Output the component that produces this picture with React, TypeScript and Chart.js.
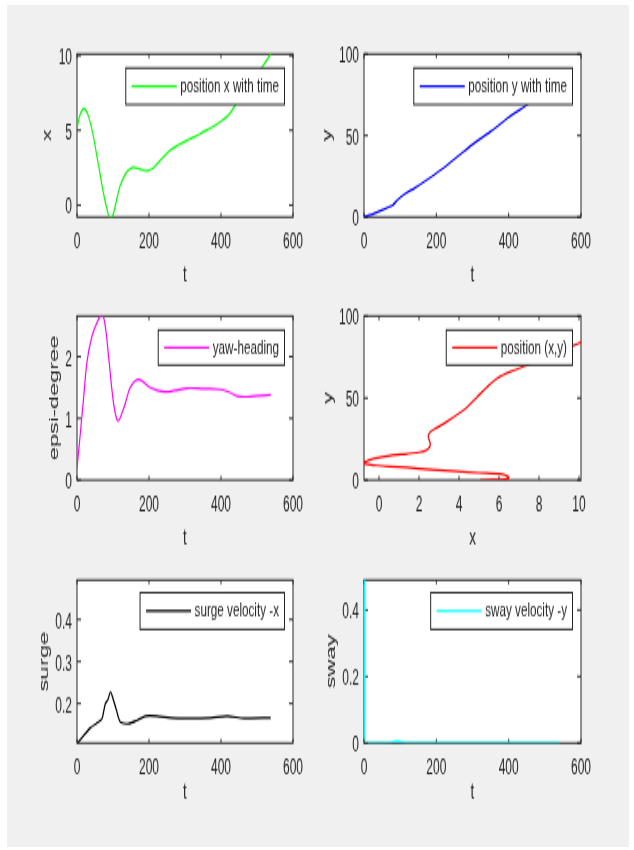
import React, { useEffect, useRef } from 'react';
import { Chart, registerables } from 'chart.js';

Chart.register(...registerables);

// ---------------- data ----------------
const timeTicks = [0, 200, 400, 600];

// position x with time
const tPosX = [0, 8, 19, 31, 45, 55, 64, 73, 83, 93, 102, 110, 120, 135, 147, 158, 175, 193, 210, 222, 240, 258, 280, 305, 330, 351, 375, 397, 420, 434, 460, 490, 513, 538];
const posX = [5.1, 6.0, 6.45, 6.0, 4.66, 3.3, 2.1, 0.85, -0.25, -0.95, -0.5, 0.35, 1.3, 2.1, 2.42, 2.52, 2.4, 2.3, 2.45, 2.75, 3.2, 3.65, 4.0, 4.32, 4.6, 4.89, 5.2, 5.56, 6.0, 6.47, 7.4, 8.4, 9.18, 10.1];
const posXTicks = [0, 5, 10];

// position y with time
const tPosY = [0, 20, 37, 60, 79, 90, 102, 120, 139, 167, 213, 260, 306, 352, 399, 454, 500, 538];
const posY = [0, 1.4, 3.1, 5.2, 7.2, 9.8, 12.4, 15.2, 17.6, 21.7, 29, 37.3, 45.5, 52.8, 61, 69.4, 77, 83.5];
const posYTicks = [0, 50, 100];

// yaw-heading
const tYaw = [0, 9, 18.5, 28, 42, 56, 70, 79, 88, 102, 114, 130, 148, 171, 204, 241, 270, 306, 352, 399, 425, 445, 473, 505, 538];
const yaw = [0.19, 0.74, 1.34, 1.93, 2.34, 2.56, 2.69, 2.48, 1.99, 1.23, 0.96, 1.17, 1.5, 1.63, 1.5, 1.43, 1.45, 1.49, 1.48, 1.47, 1.42, 1.36, 1.35, 1.37, 1.38];
const yawTicks = [0, 1, 2];

// position (x,y)
const trajX = [5.07, 5.7, 6.3, 6.5, 6.45, 6.2, 5.0, 3.9, 2.6, 1.4, 0.5, -0.1, -0.55, -0.95, -0.6, -0.27, 0.57, 1.4, 2.0, 2.3, 2.48, 2.57, 2.5, 2.46, 2.57, 2.9, 3.4, 3.9, 4.4, 4.9, 5.4, 5.9, 6.57, 7.4, 8.5, 9.73, 10.2];
const trajY = [0, 0.15, 0.6, 1.3, 2.2, 3.5, 4.4, 5.2, 6.4, 7.6, 8.3, 8.9, 9.6, 10.4, 11.6, 13, 15, 16, 16.9, 17.8, 19.2, 21.6, 24.7, 26.8, 29.5, 32, 35.7, 39.8, 44.3, 50.5, 56.7, 61.9, 66, 69.9, 75.5, 82, 84.5];
const trajXTicks = [0, 2, 4, 6, 8, 10];
const trajYTicks = [0, 50, 100];

// surge velocity -x
const tSurge = [0, 18.5, 37, 55.6, 69.5, 75, 79, 86, 93, 100, 107, 114, 120.5, 144, 167, 190, 222, 260, 306, 371, 417, 464, 538];
const surge = [0.104, 0.124, 0.142, 0.154, 0.164, 0.185, 0.2, 0.21, 0.228, 0.212, 0.192, 0.17, 0.156, 0.152, 0.16, 0.17, 0.17, 0.166, 0.165, 0.166, 0.17, 0.165, 0.166];
const surgeTicks = [0.2, 0.3, 0.4];

// sway velocity -y
const tSway = [0, 2, 4, 20, 50, 75, 88, 100, 115, 150, 250, 350, 450, 540];
const sway = [0.5, 0.02, 0.002, 0.001, 0.0, 0.002, 0.006, 0.004, 0.001, 0.0, 0.0, 0.0, 0.0, 0.0];
const swayTicks = [0, 0.2, 0.4];

// ---------------- style ----------------
const K = 1.75; // vertical stretch of the original figure
const FONT = '"Liberation Sans", Arial, Helvetica, sans-serif';
const AXIS_COLOR = '#262626';

const pairs = (xs: number[], ys: number[]) => xs.map((x, i) => ({ x, y: ys[i] }));

const matlabPlugin: any = {
  id: 'matlab',
  beforeDraw(chart: any) {
    const { ctx, chartArea: a } = chart;
    ctx.save();
    ctx.fillStyle = '#ffffff';
    ctx.fillRect(a.left, a.top, a.right - a.left, a.bottom - a.top);
    ctx.restore();
  },
  beforeDatasetsDraw(chart: any, _args: any, opts: any) {
    const { ctx, chartArea: a, scales } = chart;
    const xs = scales.x;
    const ys = scales.y;
    ctx.save();
    ctx.strokeStyle = AXIS_COLOR;
    ctx.lineWidth = 1;
    ctx.beginPath();
    for (const t of xs.ticks) {
      const p = xs.getPixelForValue(t.value);
      ctx.moveTo(p, a.bottom);
      ctx.lineTo(p, a.bottom - opts.xTickLen);
      ctx.moveTo(p, a.top);
      ctx.lineTo(p, a.top + opts.xTickLen);
    }
    for (const t of ys.ticks) {
      const p = ys.getPixelForValue(t.value);
      ctx.moveTo(a.left, p);
      ctx.lineTo(a.left + opts.yTickLen, p);
      ctx.moveTo(a.right, p);
      ctx.lineTo(a.right - opts.yTickLen, p);
    }
    ctx.stroke();
    ctx.strokeRect(a.left, a.top, a.right - a.left, a.bottom - a.top);
    ctx.restore();
  },
  afterDatasetsDraw(chart: any, _args: any, opts: any) {
    const { ctx, chartArea: a } = chart;
    const ds = chart.data.datasets[0];
    const k = opts.k;
    ctx.save();
    ctx.font = `${opts.fontSize}px ${FONT}`;
    const tw = ctx.measureText(ds.label).width;
    const w = 6 + 45 + 3.5 + tw + 5.5;
    const h = opts.legendH / k;
    const right = a.right - 8.5;
    const left = right - w;
    const top = a.top + opts.legendTop / k;
    ctx.fillStyle = '#ffffff';
    ctx.fillRect(left, top, w, h);
    ctx.strokeStyle = AXIS_COLOR;
    ctx.lineWidth = 1;
    ctx.strokeRect(left, top, w, h);
    const cy = top + h / 2;
    ctx.strokeStyle = ds.borderColor;
    ctx.lineWidth = ds.borderWidth;
    ctx.beginPath();
    ctx.moveTo(left + 6, cy);
    ctx.lineTo(left + 51, cy);
    ctx.stroke();
    ctx.fillStyle = AXIS_COLOR;
    ctx.textBaseline = 'middle';
    ctx.textAlign = 'left';
    ctx.fillText(ds.label, left + 54.5, cy);
    ctx.restore();
  },
};

type Spec = {
  L: number; R: number; T: number; B: number;
  xMin: number; xMax: number; yMin: number; yMax: number;
  xTicks: number[]; yTicks: number[];
  xTitle: string; yTitle: string;
  yTitleCenter: number; // displayed x offset of y title centre from canvas left
  xTitleGap: number; // displayed distance from box bottom to x title centre
  label: string; color: string;
  xs: number[]; ys: number[];
  tension: number;
  legendTop: number; legendH: number;
};

function Plot({ spec }: { spec: Spec }) {
  const ref = useRef<HTMLCanvasElement>(null);
  const x0 = spec.L - 70;
  const y0 = spec.T - 25;
  const W = spec.R - spec.L + 95;
  const Hd = spec.B - spec.T + 100;
  const Hi = Math.round(Hd / K);
  const k = Hd / Hi;

  useEffect(() => {
    const canvas = ref.current as HTMLCanvasElement;
    const tickFont = { family: FONT, size: 12 };
    const titleFont = { family: FONT, size: 13.5 };
    const chart = new Chart(canvas, {
      type: 'line',
      data: {
        datasets: [
          {
            label: spec.label,
            data: pairs(spec.xs, spec.ys),
            borderColor: spec.color,
            backgroundColor: spec.color,
            borderWidth: 1.2,
            pointRadius: 0,
            tension: spec.tension,
            fill: false,
          },
        ],
      },
      options: {
        responsive: false,
        animation: false,
        devicePixelRatio: 1,
        events: [],
        layout: { padding: { left: 0, top: 25 / k, right: 25, bottom: 0 } },
        elements: { line: { capBezierPoints: false } },
        plugins: {
          legend: { display: false },
          tooltip: { enabled: false },
          matlab: { k, xTickLen: 4.3 / k, yTickLen: 4, legendTop: spec.legendTop, legendH: spec.legendH, fontSize: 11.7 },
        } as any,
        scales: {
          x: {
            type: 'linear',
            min: spec.xMin,
            max: spec.xMax,
            afterBuildTicks: (s: any) => {
              s.ticks = spec.xTicks.map((v) => ({ value: v }));
            },
            afterFit: (s: any) => {
              s.height = 75 / k;
            },
            ticks: {
              font: tickFont,
              color: AXIS_COLOR,
              padding: 7.4,
              maxRotation: 0,
              autoSkip: false,
              callback: (v: any) => String(Number(v)),
            },
            grid: { display: false, drawTicks: false },
            border: { display: false },
            title: {
              display: true,
              text: spec.xTitle,
              font: titleFont,
              color: AXIS_COLOR,
              padding: { top: 0, bottom: (75 - spec.xTitleGap) / k - 8.1 },
            },
          },
          y: {
            type: 'linear',
            min: spec.yMin,
            max: spec.yMax,
            afterBuildTicks: (s: any) => {
              s.ticks = spec.yTicks.map((v) => ({ value: v }));
            },
            afterFit: (s: any) => {
              s.width = 70;
            },
            ticks: {
              font: tickFont,
              color: AXIS_COLOR,
              padding: 5,
              labelOffset: 3 / k,
              autoSkip: false,
              callback: (v: any) => String(Number(v)),
            },
            grid: { display: false, drawTicks: false },
            border: { display: false },
            title: {
              display: true,
              text: spec.yTitle,
              font: titleFont,
              color: AXIS_COLOR,
              padding: { top: spec.yTitleCenter - 8.1, bottom: 0 },
            },
          },
        },
      } as any,
      plugins: [matlabPlugin],
    });
    return () => chart.destroy();
  }, []);

  return (
    <canvas
      ref={ref}
      width={W}
      height={Hi}
      style={{ position: 'absolute', left: x0, top: y0, width: W, height: Hd }}
    />
  );
}

const COL = [
  { L: 77, R: 293 },
  { L: 364, R: 581 },
];
const ROW = [
  { T: 54, B: 217 },
  { T: 316, B: 480 },
  { T: 580, B: 743 },
];

const specs: Spec[] = [
  {
    ...COL[0], ...ROW[0],
    xMin: 0, xMax: 600, yMin: -0.8, yMax: 10.1,
    xTicks: timeTicks, yTicks: posXTicks,
    xTitle: 't', yTitle: 'x', yTitleCenter: 40, xTitleGap: 57.5,
    label: 'position x with time', color: '#00ff00',
    xs: tPosX, ys: posX, tension: 0.35, legendTop: 14, legendH: 36.5,
  },
  {
    ...COL[1], ...ROW[0],
    xMin: 0, xMax: 600, yMin: 0, yMax: 100,
    xTicks: timeTicks, yTicks: posYTicks,
    xTitle: 't', yTitle: 'y', yTitleCenter: 33, xTitleGap: 57.5,
    label: 'position y with time', color: '#0000ff',
    xs: tPosY, ys: posY, tension: 0.2, legendTop: 14, legendH: 36.5,
  },
  {
    ...COL[0], ...ROW[1],
    xMin: 0, xMax: 600, yMin: 0, yMax: 2.66,
    xTicks: timeTicks, yTicks: yawTicks,
    xTitle: 't', yTitle: 'epsi-degree', yTitleCenter: 47, xTitleGap: 57.5,
    label: 'yaw-heading', color: '#ff00ff',
    xs: tYaw, ys: yaw, tension: 0.35, legendTop: 14, legendH: 35,
  },
  {
    ...COL[1], ...ROW[1],
    xMin: -0.75, xMax: 10.1, yMin: 0, yMax: 100,
    xTicks: trajXTicks, yTicks: trajYTicks,
    xTitle: 'x', yTitle: 'y', yTitleCenter: 34, xTitleGap: 57.5,
    label: 'position (x,y)', color: '#ff0000',
    xs: trajX, ys: trajY, tension: 0.3, legendTop: 14, legendH: 35,
  },
  {
    ...COL[0], ...ROW[2],
    xMin: 0, xMax: 600, yMin: 0.106, yMax: 0.494,
    xTicks: timeTicks, yTicks: surgeTicks,
    xTitle: 't', yTitle: 'surge', yTitleCenter: 37, xTitleGap: 50,
    label: 'surge velocity -x', color: '#000000',
    xs: tSurge, ys: surge, tension: 0.25, legendTop: 12.7, legendH: 36.6,
  },
  {
    ...COL[1], ...ROW[2],
    xMin: 0, xMax: 600, yMin: 0, yMax: 0.49,
    xTicks: timeTicks, yTicks: swayTicks,
    xTitle: 't', yTitle: 'sway', yTitleCenter: 37.5, xTitleGap: 49,
    label: 'sway velocity -y', color: '#00ffff',
    xs: tSway, ys: sway, tension: 0, legendTop: 12.7, legendH: 36.6,
  },
];

export default function App() {
  return (
    <div style={{ position: 'absolute', left: 0, top: 0, width: 634, height: 850, background: '#ffffff', overflow: 'hidden' }}>
      <div style={{ position: 'absolute', left: 7, top: 5, width: 622, height: 842, background: '#f0f0f0' }} />
      {specs.map((s, i) => (
        <Plot key={i} spec={s} />
      ))}
    </div>
  );
}
